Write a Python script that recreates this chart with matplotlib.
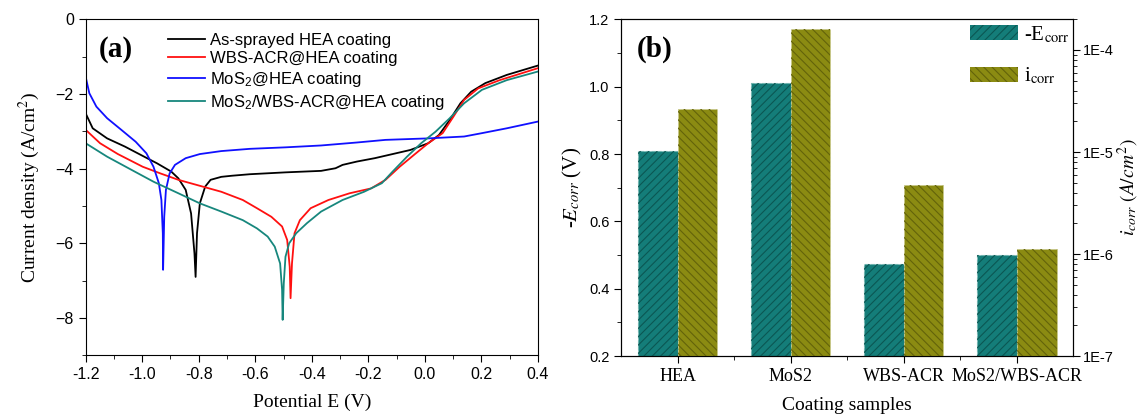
import matplotlib
matplotlib.use("Agg")
import matplotlib.pyplot as plt
from matplotlib.ticker import MultipleLocator, FixedLocator, LogLocator, NullFormatter
from matplotlib.patches import Patch
import numpy as np

plt.rcParams['mathtext.fontset'] = 'stix'
plt.rcParams['hatch.linewidth'] = 0.8

SANS = 'Liberation Sans'
SERIF = 'Liberation Serif'

# ---------------- panel (a): Tafel curves ----------------
E_hea = [-1.200, -1.175, -1.124, -1.061, -0.998, -0.947, -0.897, -0.872, -0.846, -0.827,
         -0.815, -0.811, -0.806, -0.796, -0.777, -0.758, -0.720, -0.682, -0.619, -0.493,
         -0.367, -0.316, -0.291, -0.240, -0.177, -0.114, -0.051, 0.012, 0.050, 0.088,
         0.126, 0.164, 0.214, 0.290, 0.400]
I_hea = [-2.52, -2.92, -3.19, -3.41, -3.66, -3.86, -4.08, -4.26, -4.57, -5.20,
         -6.27, -6.90, -5.73, -4.93, -4.48, -4.30, -4.22, -4.19, -4.15, -4.10,
         -4.06, -3.99, -3.90, -3.81, -3.72, -3.61, -3.50, -3.32, -3.10, -2.70,
         -2.25, -1.94, -1.71, -1.49, -1.24]

E_wbs = [-1.200, -1.149, -1.086, -0.998, -0.935, -0.872, -0.796, -0.720, -0.644, -0.594,
         -0.543, -0.505, -0.487, -0.478, -0.475, -0.470, -0.461, -0.442, -0.404, -0.341,
         -0.266, -0.190, -0.139, -0.089, -0.038, 0.012, 0.063, 0.101, 0.139, 0.189,
         0.265, 0.400]
I_wbs = [-2.96, -3.32, -3.61, -3.95, -4.13, -4.30, -4.46, -4.62, -4.84, -5.06,
         -5.29, -5.55, -5.91, -6.63, -7.47, -6.54, -5.73, -5.38, -5.06, -4.84,
         -4.66, -4.53, -4.30, -3.95, -3.63, -3.32, -3.05, -2.61, -2.16, -1.85,
         -1.63, -1.31]

E_mos = [-1.200, -1.187, -1.162, -1.124, -1.074, -1.023, -0.985, -0.960, -0.941, -0.932,
         -0.927, -0.926, -0.922, -0.916, -0.903, -0.884, -0.846, -0.796, -0.720, -0.619,
         -0.493, -0.367, -0.240, -0.139, 0.012, 0.139, 0.202, 0.290, 0.400]
I_mos = [-1.54, -1.98, -2.34, -2.65, -2.96, -3.28, -3.59, -3.95, -4.39, -4.84,
         -5.73, -6.71, -5.29, -4.57, -4.13, -3.90, -3.72, -3.61, -3.53, -3.47,
         -3.43, -3.38, -3.30, -3.23, -3.19, -3.14, -3.05, -2.92, -2.74]

E_mix = [-1.200, -1.124, -1.036, -0.960, -0.872, -0.796, -0.720, -0.644, -0.594, -0.556,
         -0.531, -0.512, -0.505, -0.503, -0.499, -0.493, -0.480, -0.455, -0.417, -0.367,
         -0.291, -0.215, -0.152, -0.114, -0.063, -0.013, 0.038, 0.088, 0.139, 0.202,
         0.290, 0.400]
I_mix = [-3.32, -3.68, -4.04, -4.35, -4.66, -4.93, -5.15, -5.38, -5.60, -5.82,
         -6.09, -6.54, -7.25, -8.05, -7.07, -6.36, -6.00, -5.73, -5.46, -5.15,
         -4.84, -4.62, -4.39, -4.08, -3.68, -3.32, -3.01, -2.65, -2.25, -1.89,
         -1.63, -1.40]

curve_labels = ['As-sprayed HEA coating', 'WBS-ACR@HEA coating',
                r'$\mathregular{MoS_2}$@HEA coating', r'$\mathregular{MoS_2}$/WBS-ACR@HEA coating']
curve_colors = ['#000000', '#ff1010', '#1010ff', '#17877d']

# ---------------- panel (b): bars ----------------
samples = ['HEA', 'MoS2', 'WBS-ACR', 'MoS2/WBS-ACR']
neg_Ecorr = [0.81, 1.012, 0.473, 0.500]
i_corr = [2.63e-5, 1.60e-4, 4.78e-6, 1.11e-6]

fig = plt.figure(figsize=(11.42, 4.19), dpi=100)
ax1 = fig.add_axes([0.075, 0.152, 0.396, 0.802])
ax2 = fig.add_axes([0.544, 0.150, 0.396, 0.804])

for E, I, lab, c in zip([E_hea, E_wbs, E_mos, E_mix], [I_hea, I_wbs, I_mos, I_mix],
                        curve_labels, curve_colors):
    ax1.plot(E, I, color=c, lw=1.3, label=lab)

ax1.set_xlim(-1.2, 0.4)
ax1.set_ylim(-9, 0)
ax1.xaxis.set_major_locator(MultipleLocator(0.2))
ax1.xaxis.set_minor_locator(MultipleLocator(0.1))
ax1.yaxis.set_major_locator(MultipleLocator(2))
ax1.yaxis.set_minor_locator(MultipleLocator(1))
ax1.xaxis.set_major_formatter(matplotlib.ticker.FuncFormatter(lambda v, p: f"{v:.1f}"))
ax1.tick_params(which='both', direction='out', top=False, right=False, labelsize=11.5)
ax1.tick_params(which='major', length=5)
ax1.tick_params(which='minor', length=3)
for t in ax1.get_xticklabels() + ax1.get_yticklabels():
    t.set_fontfamily(SANS)
ax1.set_xlabel('Potential E (V)', fontsize=14, family=SERIF, labelpad=8)
ax1.set_ylabel('Current density (A/cm$^2$)', fontsize=14, family=SERIF, labelpad=10)
ax1.text(0.03, 0.95, '(a)', transform=ax1.transAxes, fontsize=21, fontweight='bold',
         family=SERIF, va='top', ha='left')
ax1.legend(loc='upper left', bbox_to_anchor=(0.15, 1.005), frameon=False,
           handlelength=2.2, labelspacing=0.22, handletextpad=0.3,
           prop={'family': SANS, 'size': 12})

# right panel
x = np.arange(1, len(samples) + 1)
w = 0.35
teal, teal_h = '#147d79', '#0b5753'
olive, olive_h = '#8b8b12', '#63630a'

ax2.bar(x - w / 2, neg_Ecorr, width=w, bottom=0, color=teal, edgecolor='#6fb3ae',
        linestyle='--', linewidth=0.8, zorder=2)
ax2.bar(x - w / 2, neg_Ecorr, width=w, bottom=0, color='none', edgecolor=teal_h,
        hatch='////', linewidth=0, zorder=3)
ax2.set_ylim(0.2, 1.2)
ax2.set_xlim(0.5, 4.5)
ax2.yaxis.set_major_locator(MultipleLocator(0.2))
ax2.yaxis.set_minor_locator(MultipleLocator(0.1))
ax2.yaxis.set_major_formatter(matplotlib.ticker.FuncFormatter(lambda v, p: f"{v:.1f}"))
ax2.xaxis.set_major_locator(FixedLocator(list(x)))
ax2.xaxis.set_minor_locator(FixedLocator(list(x[:-1] + 0.5)))
ax2.tick_params(which='both', direction='out', top=False)
ax2.tick_params(axis='y', labelsize=10.5)
ax2.tick_params(which='major', length=5)
ax2.tick_params(which='minor', length=3)
ax2.set_xticks(list(x))
ax2.set_xticklabels(samples, fontsize=13, family=SERIF)
for t in ax2.get_yticklabels():
    t.set_fontfamily(SANS)
ax2.set_xlabel('Coating samples', fontsize=14, family=SERIF, labelpad=9)
ax2.set_ylabel(r'-$E_{corr}$ (V)', fontsize=15, family=SERIF, labelpad=4)
ax2.text(0.035, 0.95, '(b)', transform=ax2.transAxes, fontsize=21, fontweight='bold',
         family=SERIF, va='top', ha='left')

ax3 = ax2.twinx()
base = 1e-7
ax3.set_yscale('log')
ax3.bar(x + w / 2, [v - base for v in i_corr], width=w, bottom=base, color=olive,
        edgecolor='#c9c98a', linestyle='--', linewidth=0.6, zorder=2)
ax3.bar(x + w / 2, [v - base for v in i_corr], width=w, bottom=base, color='none',
        edgecolor=olive_h, hatch='\\\\\\\\', linewidth=0, zorder=3)
ax3.set_ylim(1e-7, 2e-4)
ax3.yaxis.set_major_locator(LogLocator(base=10, numticks=10))
ax3.yaxis.set_minor_locator(LogLocator(base=10, subs=np.arange(2, 10), numticks=10))
ax3.yaxis.set_minor_formatter(NullFormatter())
ax3.yaxis.set_major_formatter(matplotlib.ticker.FuncFormatter(
    lambda v, p: f"1E{int(round(np.log10(v)))}"))
ax3.tick_params(which='both', direction='out', labelsize=10.5, pad=2)
ax3.tick_params(which='major', length=5)
ax3.tick_params(which='minor', length=3)
for t in ax3.get_yticklabels():
    t.set_fontfamily(SANS)
ax3.set_ylabel(r'$i_{corr}\ (A/cm^2)$', fontsize=14, labelpad=1)

h1 = Patch(facecolor=teal, edgecolor=teal_h, hatch='////', linewidth=0)
h2 = Patch(facecolor=olive, edgecolor=olive_h, hatch='\\\\\\\\', linewidth=0)
ax3.legend([h1, h2], [r'-E$_{\rm corr}$', r'i$_{\rm corr}$'], loc='upper right',
           bbox_to_anchor=(1.01, 1.01), borderaxespad=0, frameon=False,
           handlelength=2.3, handleheight=0.75, labelspacing=1.0, handletextpad=0.3,
           prop={'family': SERIF, 'size': 15})

fig.savefig('out.png', dpi=100)
